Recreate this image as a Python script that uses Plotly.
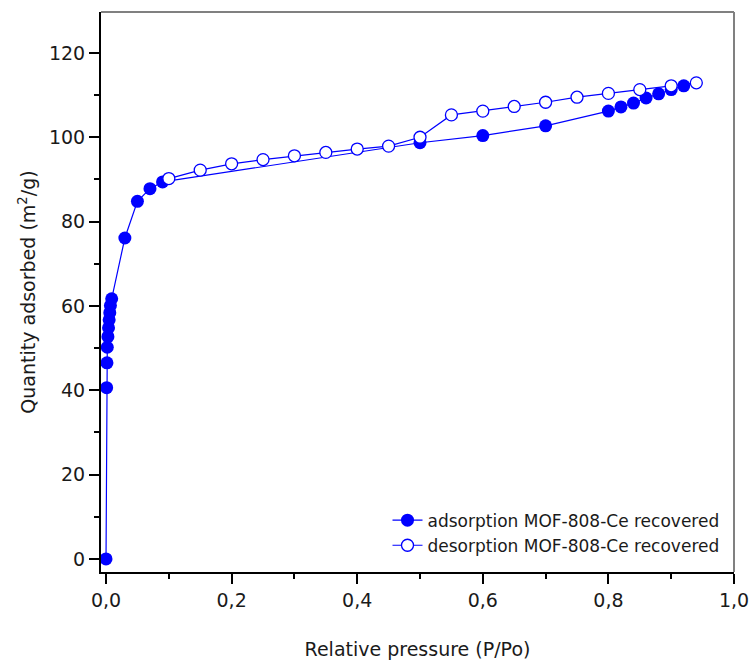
import plotly.graph_objects as go

# Adsorption branch (filled markers)
ads_p = [0.0, 0.001, 0.0015, 0.002, 0.003, 0.004, 0.005, 0.006, 0.007, 0.009,
         0.03, 0.05, 0.07, 0.09,
         0.5, 0.6, 0.7, 0.8, 0.82, 0.84, 0.86, 0.88, 0.90, 0.92]
ads_q = [0.0, 40.6, 46.5, 50.2, 52.7, 54.8, 56.7, 58.4, 60.1, 61.7,
         76.1, 84.8, 87.8, 89.4,
         98.7, 100.4, 102.7, 106.2, 107.2, 108.1, 109.3, 110.3, 111.3, 112.2]

# Desorption branch (open markers)
des_p = [0.94, 0.90, 0.85, 0.80, 0.75, 0.70, 0.65, 0.60, 0.55, 0.50,
         0.45, 0.40, 0.35, 0.30, 0.25, 0.20, 0.15, 0.10]
des_q = [112.9, 112.2, 111.3, 110.4, 109.5, 108.3, 107.3, 106.2, 105.3, 100.0,
         97.9, 97.2, 96.4, 95.6, 94.7, 93.7, 92.2, 90.2]

BLUE = "#0000FF"
FONT = "DejaVu Sans"
TEXT = "#1a1a1a"

fig = go.Figure()
fig.add_trace(go.Scatter(
    x=ads_p, y=ads_q, mode="lines+markers",
    name="adsorption MOF-808-Ce recovered",
    line=dict(color=BLUE, width=1.2),
    marker=dict(symbol="circle", size=13, color=BLUE, line=dict(width=0)),
))
fig.add_trace(go.Scatter(
    x=des_p, y=des_q, mode="lines+markers",
    name="desorption MOF-808-Ce recovered",
    line=dict(color=BLUE, width=1.2),
    marker=dict(symbol="circle", size=12, color="white",
                line=dict(color=BLUE, width=1.3)),
))

axis_common = dict(
    showgrid=False, zeroline=False, automargin=False,
    showline=True, linecolor="black", linewidth=2,
    ticks="outside", ticklen=10, tickwidth=1.5, tickcolor="black",
    tickfont=dict(family=FONT, size=19, color=TEXT),
)

fig.update_xaxes(
    range=[-0.008, 1.0], dtick=0.2, tick0=0, tickformat=".1f",
    minor=dict(dtick=0.1, ticks="outside", ticklen=5, tickwidth=1.5, tickcolor="black"),
    title=dict(text="Relative pressure (P/Po)", font=dict(family=FONT, size=19, color=TEXT),
               standoff=33),
    **axis_common,
)
fig.update_yaxes(
    range=[-3.1, 129.7], dtick=20, tick0=0,
    minor=dict(dtick=10, ticks="outside", ticklen=5, tickwidth=1.5, tickcolor="black"),
    title=dict(text="Quantity adsorbed (m<sup>2</sup>/g)", font=dict(family=FONT, size=19, color=TEXT),
               standoff=8),
    **axis_common,
)

# Grey frame on the top and right sides
fig.add_shape(type="line", xref="paper", yref="paper", x0=0, x1=1, y0=1, y1=1,
              line=dict(color="#808080", width=2))
fig.add_shape(type="line", xref="paper", yref="paper", x0=1, x1=1, y0=0, y1=1,
              line=dict(color="#808080", width=2))

fig.update_layout(
    width=752, height=662,
    margin=dict(l=101, r=18, t=12, b=90),
    paper_bgcolor="white", plot_bgcolor="white",
    separators=",.",
    font=dict(family=FONT, size=19, color=TEXT),
    showlegend=True,
    legend=dict(x=0.985, y=0.015, xanchor="right", yanchor="bottom",
                bgcolor="rgba(0,0,0,0)", font=dict(family=FONT, size=17, color=TEXT),
                tracegroupgap=0, itemsizing="trace"),
)

fig.write_html("out.html")
